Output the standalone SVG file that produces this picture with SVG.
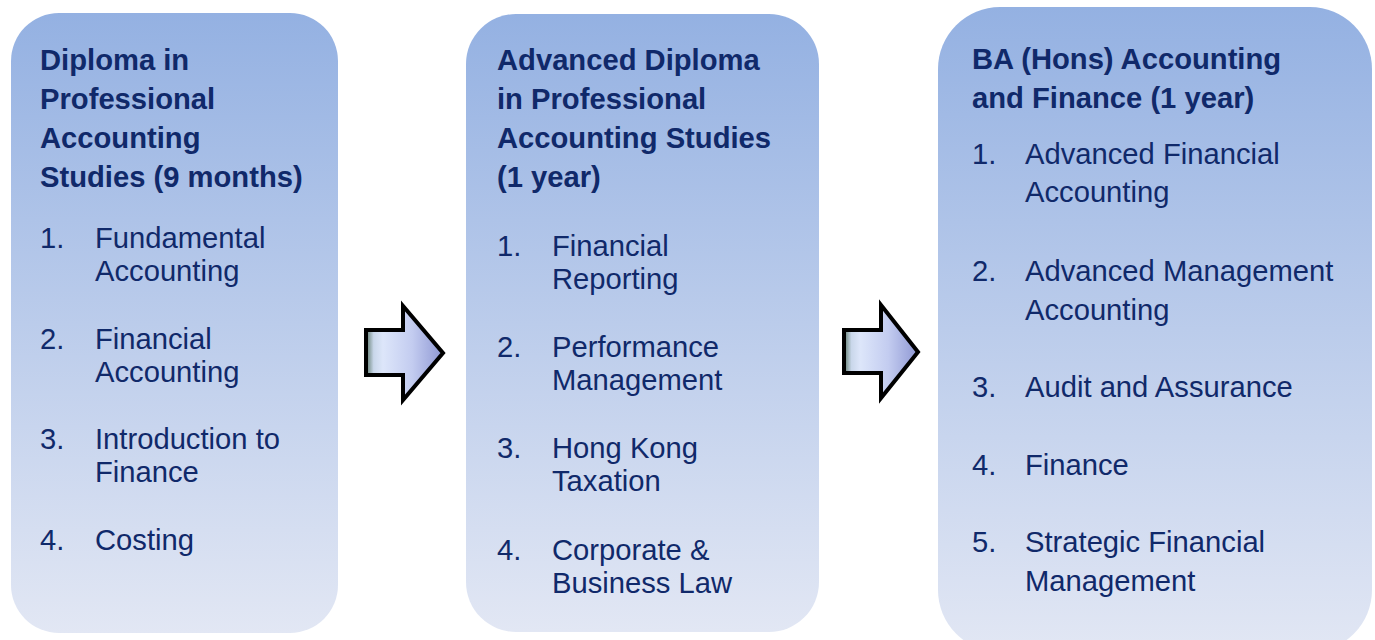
<svg xmlns="http://www.w3.org/2000/svg" width="1375" height="640" viewBox="0 0 1375 640">
<defs>
<linearGradient id="boxg" x1="0" y1="0" x2="0" y2="1">
<stop offset="0" stop-color="#94B1E2"/>
<stop offset="1" stop-color="#E2E7F4"/>
</linearGradient>
<linearGradient id="arrg" x1="0" y1="0" x2="1" y2="0">
<stop offset="0" stop-color="#5F7A6C"/>
<stop offset="0.1" stop-color="#C9D7EA"/>
<stop offset="0.22" stop-color="#DDE6FA"/>
<stop offset="0.6" stop-color="#C3CCF0"/>
<stop offset="1" stop-color="#8E97D3"/>
</linearGradient>
<style>
.box{fill:url(#boxg);}
.t{font-family:"Liberation Sans",Arial,sans-serif;font-size:29.2px;fill:#10296A;}
.b{font-weight:bold;}
.arr{fill:url(#arrg);stroke:#000;stroke-width:4;stroke-linejoin:miter;}
</style>
</defs>
<g id="node1">
<rect class="box" x="11" y="13" width="327" height="620" rx="48" ry="48"/>
<text class="t b" x="40" y="70">Diploma in</text>
<text class="t b" x="40" y="109">Professional</text>
<text class="t b" x="40" y="148">Accounting</text>
<text class="t b" x="40" y="187">Studies (9 months)</text>
<text class="t" x="40" y="248">1.</text><text class="t" x="95" y="248">Fundamental</text>
<text class="t" x="95" y="281">Accounting</text>
<text class="t" x="40" y="349">2.</text><text class="t" x="95" y="349">Financial</text>
<text class="t" x="95" y="382">Accounting</text>
<text class="t" x="40" y="449">3.</text><text class="t" x="95" y="449">Introduction to</text>
<text class="t" x="95" y="482">Finance</text>
<text class="t" x="40" y="550">4.</text><text class="t" x="95" y="550">Costing</text>
</g>
<g id="node2">
<rect class="box" x="466" y="14" width="353" height="618" rx="50" ry="50"/>
<text class="t b" x="497" y="70">Advanced Diploma</text>
<text class="t b" x="497" y="109">in Professional</text>
<text class="t b" x="497" y="148">Accounting Studies</text>
<text class="t b" x="497" y="187">(1 year)</text>
<text class="t" x="497" y="256">1.</text><text class="t" x="552" y="256">Financial</text>
<text class="t" x="552" y="289">Reporting</text>
<text class="t" x="497" y="357">2.</text><text class="t" x="552" y="357">Performance</text>
<text class="t" x="552" y="390">Management</text>
<text class="t" x="497" y="458">3.</text><text class="t" x="552" y="458">Hong Kong</text>
<text class="t" x="552" y="491">Taxation</text>
<text class="t" x="497" y="560">4.</text><text class="t" x="552" y="560">Corporate &amp;</text>
<text class="t" x="552" y="593">Business Law</text>
</g>
<g id="node3">
<rect class="box" x="938" y="7" width="434" height="645" rx="62" ry="62"/>
<text class="t b" x="972" y="69">BA (Hons) Accounting</text>
<text class="t b" x="972" y="108">and Finance (1 year)</text>
<text class="t" x="972" y="164">1.</text><text class="t" x="1025" y="164">Advanced Financial</text>
<text class="t" x="1025" y="202">Accounting</text>
<text class="t" x="972" y="281">2.</text><text class="t" x="1025" y="281">Advanced Management</text>
<text class="t" x="1025" y="320">Accounting</text>
<text class="t" x="972" y="397">3.</text><text class="t" x="1025" y="397">Audit and Assurance</text>
<text class="t" x="972" y="475">4.</text><text class="t" x="1025" y="475">Finance</text>
<text class="t" x="972" y="552">5.</text><text class="t" x="1025" y="552">Strategic Financial</text>
<text class="t" x="1025" y="591">Management</text>
</g>
<g id="connectors">
<path class="arr" d="M366,330 L403,330 L403,306 L443,353 L403,400 L403,375 L366,375 Z"/>
<path class="arr" d="M844,330 L881,330 L881,305 L918,352 L881,398 L881,373 L844,373 Z"/>
</g>
</svg>
